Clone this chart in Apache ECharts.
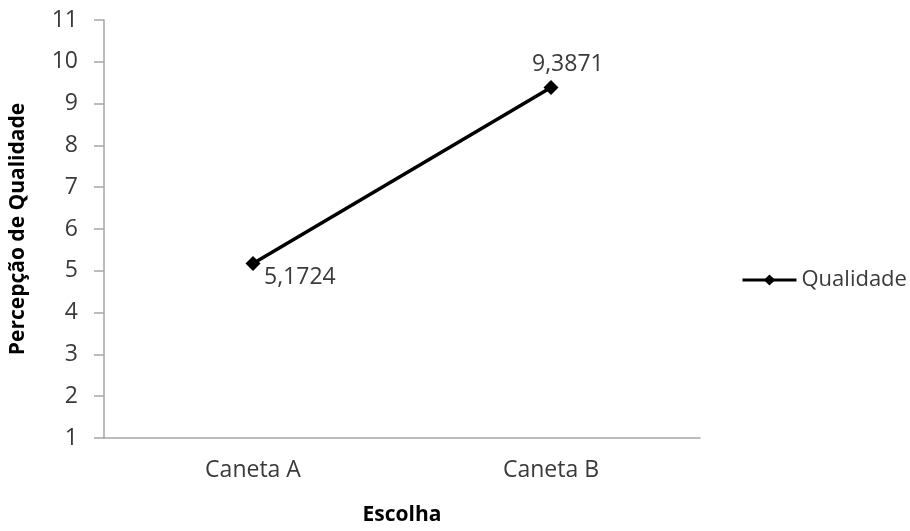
<!DOCTYPE html>
<html>
<head>
<meta charset="utf-8">
<title>Percepção de Qualidade</title>
<script src="https://cdn.jsdelivr.net/npm/echarts@6/dist/echarts.min.js"></script>
<style>
  html, body { margin: 0; padding: 0; background: #ffffff; }
  #chart { width: 910px; height: 531px; }
</style>
</head>
<body>
<div id="chart"></div>
<script>
// Categories and values
const categories = ['Caneta A', 'Caneta B'];
const qualidade = [5.1724, 9.3871];
const seriesName = 'Qualidade';
const yTicks = { min: 1, max: 11, step: 1 };

const FONT = '"Open Sans", sans-serif';
const TEXT = '#3a3a3a';
const AXIS = '#a6a6a6';

// decimal comma formatting
const fmt = v => String(v).replace('.', ',');

// per-point label placement (left edge / vertical centre relative to the point)
const labelOffsets = [[11, 14], [-19, -23]];

const chart = echarts.init(document.getElementById('chart'), null, { renderer: 'canvas' });

chart.setOption({
  animation: false,
  backgroundColor: '#ffffff',
  grid: { left: 99, right: 210, top: 20, bottom: 88, containLabel: false },
  legend: {
    data: [seriesName],
    orient: 'vertical',
    left: 736,
    top: 264,
    itemWidth: 54,
    itemHeight: 14,
    lineStyle: { width: 3, color: '#000000' },
    textStyle: { fontFamily: FONT, fontSize: 22, color: TEXT }
  },
  xAxis: {
    type: 'category',
    data: categories,
    boundaryGap: true,
    name: 'Escolha',
    nameLocation: 'middle',
    nameGap: 67,
    nameTextStyle: { fontFamily: FONT, fontSize: 21, fontWeight: 'bold', color: '#000000' },
    axisLine: { lineStyle: { color: AXIS, width: 1.5 } },
    axisTick: { show: false },
    axisLabel: { fontFamily: FONT, fontSize: 23, color: TEXT, margin: 21 },
    splitLine: { show: false }
  },
  yAxis: {
    type: 'value',
    min: yTicks.min,
    max: yTicks.max,
    interval: yTicks.step,
    name: 'Percepção de Qualidade',
    nameLocation: 'middle',
    nameRotate: 90,
    nameGap: 75,
    nameTextStyle: { fontFamily: FONT, fontSize: 21, fontWeight: 'bold', color: '#000000' },
    axisLine: { show: true, lineStyle: { color: AXIS, width: 1.5 } },
    axisTick: { show: true, length: 10, lineStyle: { color: AXIS, width: 1.5 } },
    axisLabel: { fontFamily: FONT, fontSize: 23, color: TEXT, margin: 26 },
    splitLine: { show: false }
  },
  series: [{
    name: seriesName,
    type: 'line',
    data: qualidade.map((v, i) => ({
      value: v,
      label: { offset: labelOffsets[i] }
    })),
    symbol: 'diamond',
    symbolSize: 15,
    lineStyle: { color: '#000000', width: 3.5 },
    itemStyle: { color: '#000000' },
    label: {
      show: true,
      position: 'inside',
      align: 'left',
      fontFamily: FONT,
      fontSize: 23,
      color: TEXT,
      formatter: p => fmt(p.value)
    }
  }]
});
</script>
</body>
</html>
